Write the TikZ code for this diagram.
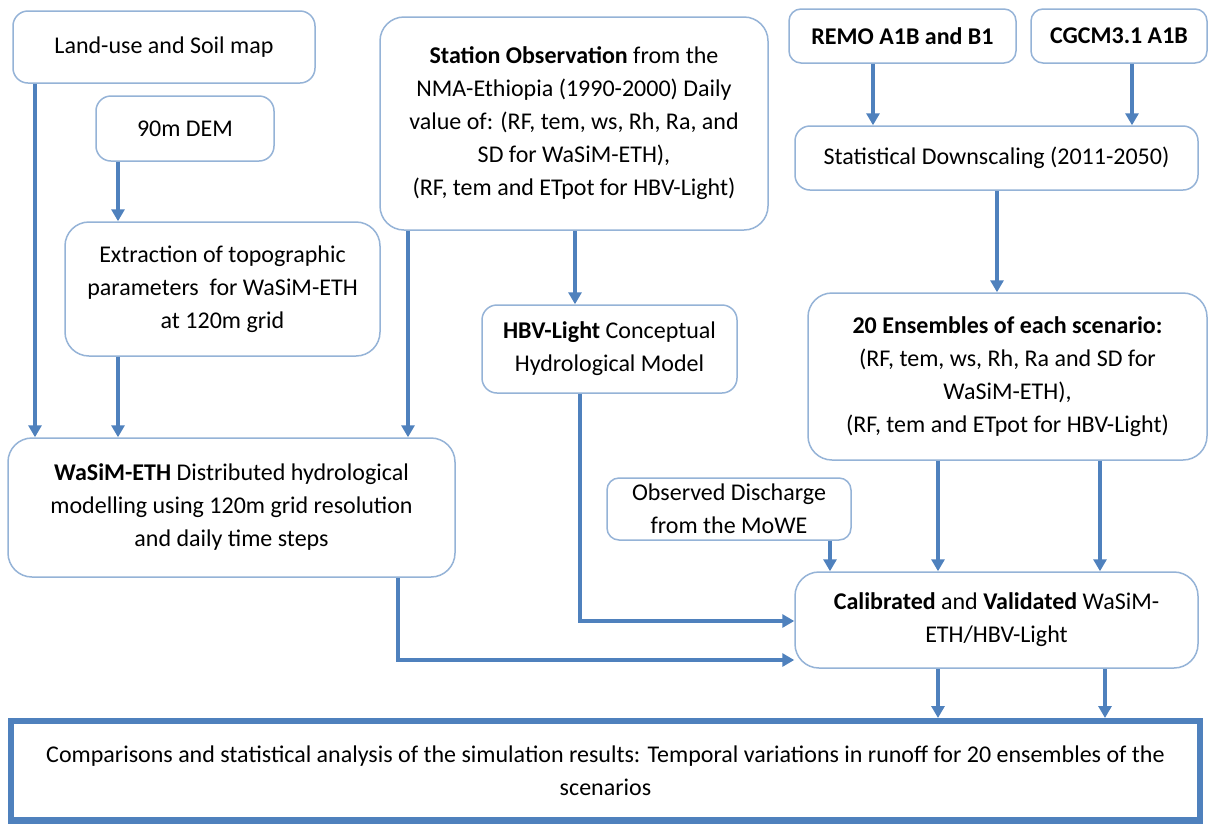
\documentclass[tikz,border=0pt]{standalone}
\usepackage{fontspec}
\setmainfont{Carlito}
\usetikzlibrary{arrows.meta}
\definecolor{boxc}{HTML}{95B3D7}
\definecolor{arrc}{HTML}{4F81BD}
\begin{document}
\begin{tikzpicture}[x=1pt,y=-1pt,
  box/.style={draw=boxc, line width=1.5pt, rounded corners=15pt, align=center, inner sep=0pt,
    font=\fontsize{24}{33}\selectfont, text=black},
  big/.style={box, rounded corners=24pt},
  arr/.style={draw=arrc, line width=4pt, -{Triangle[width=13pt,length=12pt]}}]
\useasboundingbox (0,0) rectangle (1208,823);
\fill[white] (0,0) rectangle (1208,823);

\node[box, minimum width=302pt, minimum height=72pt] (land) at (164,47) {Land-use and Soil map};
\node[box, minimum width=178pt, minimum height=65pt] (dem) at (185,128.5) {90m DEM};
\node[big, minimum width=315pt, minimum height=134pt] (extr) at (222.5,289) {Extraction of topographic\\parameters\ \ for WaSiM-ETH\\at 120m grid};
\node[big, minimum width=447pt, minimum height=139pt] (wasim) at (231.5,507.5) {\textbf{WaSiM-ETH} Distributed hydrological\\modelling using 120m grid resolution\\and daily time steps};
\node[big, minimum width=388pt, minimum height=213pt] (station) at (574,123.5) {\textbf{Station Observation} from the\\NMA-Ethiopia (1990-2000) Daily\\value of: (RF, tem, ws, Rh, Ra, and\\SD for WaSiM-ETH),\\(RF, tem and ETpot for HBV-Light)};
\node[box, minimum width=255pt, minimum height=88pt] (hbv) at (609.5,349) {\textbf{HBV-Light} Conceptual\\Hydrological Model};
\node[box, rounded corners=12pt, minimum width=244pt, minimum height=62pt] (obs) at (729,509) {Observed Discharge\\from the MoWE};
\node[box, rounded corners=12pt, minimum width=227pt, minimum height=54pt] (remo) at (902.5,36) {\textbf{REMO A1B and B1}};
\node[box, rounded corners=12pt, minimum width=176pt, minimum height=54pt] (cgcm) at (1119,36) {\textbf{CGCM3.1 A1B}};
\node[box, minimum width=403pt, minimum height=64pt] (stat) at (996.5,158) {Statistical Downscaling (2011-2050)};
\node[big, minimum width=399pt, minimum height=167pt] (ens) at (1007.5,376.5) {\textbf{20 Ensembles of each scenario:}\\(RF, tem, ws, Rh, Ra and SD for\\WaSiM-ETH),\\(RF, tem and ETpot for HBV-Light)};
\node[big, minimum width=403pt, minimum height=96pt] (cal) at (996.5,620) {\textbf{Calibrated} and \textbf{Validated} WaSiM-\\ETH/HBV-Light};

\node[draw=arrc, line width=5pt, minimum width=1190pt, minimum height=100.5pt, inner sep=0pt,
  align=center, font=\fontsize{24}{33}\selectfont] (bot) at (605.5,770.75)
  {Comparisons and statistical analysis of the simulation results: Temporal variations in runoff for 20 ensembles of the\\scenarios};
\draw[draw=arrc, line width=1.5pt] ([shift={(5.5,5.5)}]bot.north west) rectangle ([shift={(-5.5,-5.5)}]bot.south east);

\draw[arr] (land.south -| 35,0) -- (wasim.north -| 35,0);
\draw[arr] (dem.south -| 118,0) -- (extr.north -| 118,0);
\draw[arr] (extr.south -| 118,0) -- (wasim.north -| 118,0);
\draw[arr] (station.south -| 408,0) -- (wasim.north -| 408,0);
\draw[arr] (station.south -| 575,0) -- (hbv.north -| 575,0);
\draw[arr] (hbv.south -| 580,0) |- (cal.west |- 0,621);
\draw[arr] (wasim.south -| 398,0) |- (cal.west |- 0,660);
\draw[arr] (obs.south -| 830,0) -- (cal.north -| 830,0);
\draw[arr] (ens.south -| 938,0) -- (cal.north -| 938,0);
\draw[arr] (ens.south -| 1100,0) -- (cal.north -| 1100,0);
\draw[arr] (cal.south -| 938,0) -- (bot.north -| 938,0);
\draw[arr] (cal.south -| 1105,0) -- (bot.north -| 1105,0);
\draw[arr] (remo.south -| 873,0) -- (stat.north -| 873,0);
\draw[arr] (cgcm.south -| 1132,0) -- (stat.north -| 1132,0);
\draw[arr] (stat.south -| 997,0) -- (ens.north -| 997,0);
\end{tikzpicture}
\end{document}
